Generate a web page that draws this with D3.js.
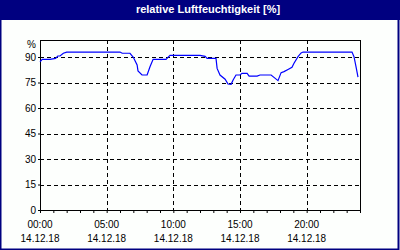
<!DOCTYPE html>
<html>
<head>
<meta charset="utf-8">
<script src="https://cdn.jsdelivr.net/npm/d3@7"></script>
<style>
    body { margin: 0; background: #fff; }
    svg text { font-family: "Liberation Sans", Arial, sans-serif; }
</style>
</head>
<body>
<div id="chart"></div>
<script>

// measurement times on 14.12.18
let times = ["00:00", "00:10", "00:45", "01:10", "01:20", "01:30", "01:45", "02:00",
    "06:00", "06:10", "06:45", "07:00", "07:17", "07:21", "07:39", "08:02", "08:15",
    "08:29", "09:27", "09:45", "12:00", "12:23", "12:32", "13:12", "13:17", "13:30",
    "13:53", "14:06", "14:20", "14:29", "14:42", "15:00", "15:09", "15:32", "15:41",
    "16:17", "16:30", "17:20", "17:33", "17:51", "18:05", "18:18", "18:36", "18:54",
    "19:03", "19:21", "19:35", "19:44", "23:24", "23:33", "23:42", "23:51"];

// relative humidity in %
let humidity = [87.2, 88.6, 88.6, 89.2, 90.6, 90.6, 92.2, 92.9,
    92.9, 92.2, 92.2, 89.8, 85.3, 81.8, 79.4, 79.4, 84.3,
    88.6, 88.6, 91.0, 91.0, 90.4, 89.2, 89.2, 83.3, 79.4,
    76.9, 74.1, 73.9, 76.5, 79.4, 79.4, 80.4, 80.4, 78.8,
    78.8, 79.4, 79.4, 78.0, 76.1, 80.8, 81.4, 82.7, 83.9,
    86.3, 90.2, 92.4, 92.9, 92.9, 90.2, 84.3, 78.1];

let yTicks = [0, 15, 30, 45, 60, 75, 90];
let xLabelHours = [0, 5, 10, 15, 20];
let dateLabel = "14.12.18";
let title = "relative Luftfeuchtigkeit [%]";

let parseTime = d3.timeParse("%d.%m.%y %H:%M");
let data = times.map((t, i) => ({date: parseTime(dateLabel + " " + t), value: humidity[i]}));

let W = 400, H = 250;
let margin = {top: 40, right: 40, bottom: 40, left: 40};
let width = W - margin.left - margin.right;   // 320
let height = H - margin.top - margin.bottom;  // 170

let svg = d3.select("#chart").append("svg")
    .attr("width", W)
    .attr("height", H);

// outer frame + title bar
svg.append("rect")
    .attr("x", 0.5).attr("y", 0.5)
    .attr("width", W - 2).attr("height", H - 1)
    .attr("fill", "#fdfffd")
    .attr("stroke", "#000080")
    .attr("stroke-width", 2);

svg.append("rect")
    .attr("x", 0).attr("y", 0)
    .attr("width", W).attr("height", 20)
    .attr("fill", "#000080");

svg.append("text")
    .attr("x", 208).attr("y", 13)
    .attr("text-anchor", "middle")
    .attr("fill", "#fff")
    .attr("font-weight", "bold")
    .attr("font-size", "11px")
    .text(title);

let g = svg.append("g")
    .attr("transform", "translate(" + margin.left + "," + margin.top + ")");

// scales
let start = parseTime(dateLabel + " 00:00");
let end = d3.timeHour.offset(start, 24);

let x = d3.scaleTime()
    .domain([start, end])
    .range([0, width]);

let y = d3.scaleLinear()
    .domain([0, 100])
    .range([height, 0]);

// grid
g.selectAll(".hgrid")
    .data(yTicks.filter(d => d > 0))
    .enter().append("line")
    .attr("class", "hgrid")
    .attr("x1", 0).attr("x2", width)
    .attr("y1", d => Math.round(y(d)) + 0.5)
    .attr("y2", d => Math.round(y(d)) + 0.5)
    .attr("stroke", "#000")
    .attr("stroke-dasharray", "4,3");

g.selectAll(".vgrid")
    .data(xLabelHours.filter(d => d > 0))
    .enter().append("line")
    .attr("class", "vgrid")
    .attr("x1", d => Math.round(x(d3.timeHour.offset(start, d))) + 0.5)
    .attr("x2", d => Math.round(x(d3.timeHour.offset(start, d))) + 0.5)
    .attr("y1", 0).attr("y2", height)
    .attr("stroke", "#000")
    .attr("stroke-dasharray", "4,3");

// axes
let xAxis = d3.axisBottom(x)
    .ticks(d3.timeHour.every(1))
    .tickSize(3)
    .tickFormat("");

g.append("g")
    .attr("transform", "translate(0," + height + ")")
    .call(xAxis)
    .call(a => a.select(".domain").remove());

let yAxis = d3.axisLeft(y)
    .tickValues(yTicks)
    .tickSize(2)
    .tickPadding(2);

g.append("g")
    .call(yAxis)
    .call(a => a.select(".domain").remove())
    .selectAll("text")
    .attr("font-size", "10px")
    .attr("fill", "#000");

// unit label
g.append("text")
    .attr("x", -4).attr("y", 8)
    .attr("text-anchor", "end")
    .attr("font-size", "10px")
    .text("%");

// x labels (time + date)
let xl = g.selectAll(".xlab")
    .data(xLabelHours)
    .enter().append("g")
    .attr("class", "xlab")
    .attr("transform", d => "translate(" + x(d3.timeHour.offset(start, d)) + ",0)");

xl.append("text")
    .attr("y", height + 18)
    .attr("text-anchor", "middle")
    .attr("font-size", "10px")
    .text(d => d3.timeFormat("%H:%M")(d3.timeHour.offset(start, d)));

xl.append("text")
    .attr("y", height + 32)
    .attr("text-anchor", "middle")
    .attr("font-size", "10px")
    .text(dateLabel);

// plot frame
g.append("rect")
    .attr("x", 0.5).attr("y", 0.5)
    .attr("width", width).attr("height", height)
    .attr("fill", "none")
    .attr("stroke", "#000");

// humidity line
let line = d3.line()
    .x(d => x(d.date))
    .y(d => y(d.value));

g.append("path")
    .datum(data)
    .attr("d", line)
    .attr("fill", "none")
    .attr("stroke", "#0000ff")
    .attr("stroke-width", 1.2);

</script>
</body>
</html>
